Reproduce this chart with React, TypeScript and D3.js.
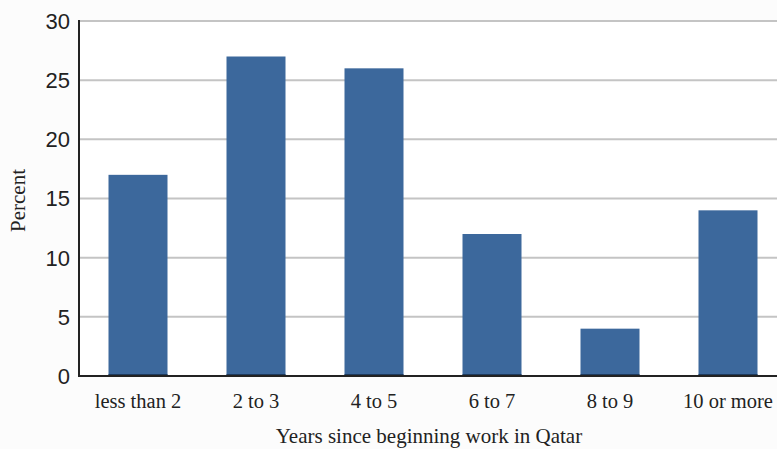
import React from "react";
import * as d3 from "d3";

const categories = ["less than 2", "2 to 3", "4 to 5", "6 to 7", "8 to 9", "10 or more"];
const percents = [17, 27, 26, 12, 4, 14];
const yTicks = [0, 5, 10, 15, 20, 25, 30];

export default function App() {
  const W = 777, H = 449;
  const left = 79, top = 21, bottom = 376;
  const x = d3.scaleBand<string>().domain(categories).range([left, left + 118 * 6]).paddingInner(0.5).paddingOuter(0.25);
  const y = d3.scaleLinear().domain([0, 30]).range([bottom, top]);
  return (
    <svg width={W} height={H} style={{ position: "absolute", left: 0, top: 0, background: "#fcfcfc" }}>
      <rect x={left} y={top} width={W - left} height={bottom - top} fill="#ffffff" />
      {yTicks.filter(t => t > 0).map(t => (
        <line key={t} x1={left} x2={W} y1={y(t)} y2={y(t)} stroke="#c4c4c4" strokeWidth={2} />
      ))}
      {categories.map((c, i) => (
        <g key={c}>
          <rect x={x(c)} y={y(percents[i])} width={x.bandwidth()} height={bottom - y(percents[i])} fill="#3c689c" />
          <rect x={x(c)} y={bottom - 2} width={x.bandwidth()} height={2} fill="#1e3a5c" />
        </g>
      ))}
      <line x1={left} x2={W} y1={bottom} y2={bottom} stroke="#222" strokeWidth={2} />
      <line x1={left} x2={left} y1={top - 1} y2={bottom + 1} stroke="#222" strokeWidth={2} />
      {yTicks.map(t => (
        <text key={t} x={70} y={y(t)} dy="0.36em" textAnchor="end" fontFamily="Liberation Sans, Arial, sans-serif" fontSize={22} fill="#222">{t}</text>
      ))}
      {categories.map(c => (
        <text key={c} x={(x(c) as number) + x.bandwidth() / 2} y={408} textAnchor="middle" fontFamily="Liberation Serif, Times New Roman, serif" fontSize={20.5} fill="#222">{c}</text>
      ))}
      <text transform={`translate(25,${(top + bottom) / 2 + 2}) rotate(-90)`} textAnchor="middle" fontFamily="Liberation Serif, Times New Roman, serif" fontSize={21} fill="#222">Percent</text>
      <text x={429} y={443} textAnchor="middle" fontFamily="Liberation Serif, Times New Roman, serif" fontSize={21} fill="#222">Years since beginning work in Qatar</text>
    </svg>
  );
}
